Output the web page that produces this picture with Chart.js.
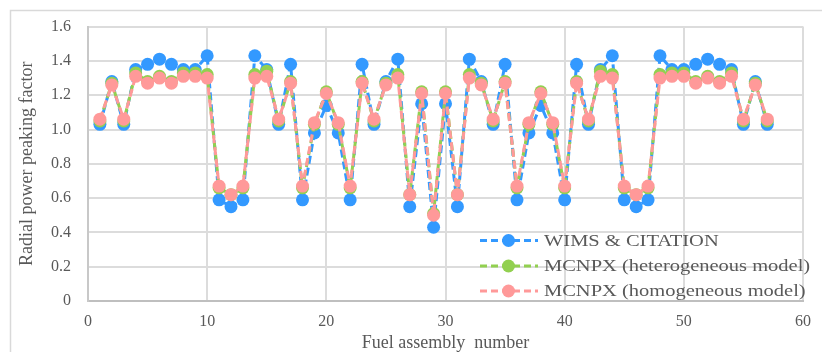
<!DOCTYPE html>
<html>
<head>
<meta charset="utf-8">
<script src="https://cdn.jsdelivr.net/npm/chart.js@4.4.1/dist/chart.umd.min.js"></script>
<style>
  html, body { margin: 0; padding: 0; background: #fff; }
</style>
</head>
<body>
<canvas id="myChart" width="822" height="352"></canvas>
<script>
// fuel assembly numbers (x)
var assembly = [1, 2, 3, 4, 5, 6, 7, 8, 9, 10, 11, 12, 13, 14, 15, 16, 17, 18, 19, 20,
  21, 22, 23, 24, 25, 26, 27, 28, 29, 30, 31, 32, 33, 34, 35, 36, 37, 38, 39, 40,
  41, 42, 43, 44, 45, 46, 47, 48, 49, 50, 51, 52, 53, 54, 55, 56, 57];

// radial power peaking factor
var wimsCitation = [1.03, 1.28, 1.03, 1.35, 1.38, 1.41, 1.38, 1.35, 1.35, 1.43,
  0.59, 0.55, 0.59, 1.43, 1.35, 1.03, 1.38, 0.59, 0.98, 1.14,
  0.98, 0.59, 1.38, 1.03, 1.28, 1.41, 0.55, 1.15, 0.43, 1.15,
  0.55, 1.41, 1.28, 1.03, 1.38, 0.59, 0.98, 1.14, 0.98, 0.59,
  1.38, 1.03, 1.35, 1.43, 0.59, 0.55, 0.59, 1.43, 1.35, 1.35,
  1.38, 1.41, 1.38, 1.35, 1.03, 1.28, 1.03];
var mcnpxHetero = [1.05, 1.27, 1.05, 1.33, 1.28, 1.31, 1.28, 1.33, 1.33, 1.32,
  0.66, 0.62, 0.66, 1.32, 1.34, 1.05, 1.28, 0.66, 1.03, 1.22,
  1.03, 0.66, 1.28, 1.05, 1.27, 1.32, 0.62, 1.22, 0.51, 1.22,
  0.62, 1.32, 1.27, 1.05, 1.28, 0.66, 1.03, 1.22, 1.03, 0.66,
  1.28, 1.05, 1.34, 1.32, 0.66, 0.62, 0.66, 1.32, 1.33, 1.33,
  1.28, 1.31, 1.28, 1.33, 1.05, 1.27, 1.05];
var mcnpxHomo = [1.06, 1.26, 1.06, 1.31, 1.27, 1.30, 1.27, 1.31, 1.31, 1.30,
  0.67, 0.62, 0.67, 1.30, 1.31, 1.06, 1.27, 0.67, 1.04, 1.21,
  1.04, 0.67, 1.27, 1.06, 1.26, 1.30, 0.62, 1.21, 0.50, 1.21,
  0.62, 1.30, 1.26, 1.06, 1.27, 0.67, 1.04, 1.21, 1.04, 0.67,
  1.27, 1.06, 1.31, 1.30, 0.67, 0.62, 0.67, 1.30, 1.31, 1.31,
  1.27, 1.30, 1.27, 1.31, 1.06, 1.26, 1.06];

var seriesNames = ['WIMS & CITATION', 'MCNPX (heterogeneous model)', 'MCNPX (homogeneous model)'];
var seriesColors = ['#3399ff', '#92d050', '#ff9999'];

var serif = "'Liberation Serif', 'Times New Roman', serif";
var textGray = '#595959';

function toPoints(values) {
  return assembly.map(function (a, i) { return { x: a, y: values[i] }; });
}

function makeSet(idx, values, order) {
  return {
    label: seriesNames[idx],
    data: toPoints(values),
    borderColor: seriesColors[idx],
    backgroundColor: seriesColors[idx],
    pointBackgroundColor: seriesColors[idx],
    pointBorderWidth: 0,
    pointRadius: 6.5,
    borderWidth: 3,
    borderDash: [8, 4],
    borderJoinStyle: 'round',
    tension: 0,
    order: order
  };
}

// white background + the thin chart-area frame
var frame = {
  id: 'frame',
  beforeDraw: function (chart) {
    var ctx = chart.ctx;
    ctx.save();
    ctx.fillStyle = '#fff';
    ctx.fillRect(0, 0, chart.width, chart.height);
    ctx.strokeStyle = '#d9d9d9';
    ctx.lineWidth = 1.5;
    ctx.beginPath();
    ctx.moveTo(10.5, chart.height);
    ctx.lineTo(10.5, 10.5);
    ctx.lineTo(chart.width, 10.5);
    ctx.stroke();
    ctx.restore();
  }
};

// legend inside the plot, bottom right, dashed line + marker
var lineLegend = {
  id: 'lineLegend',
  afterDatasetsDraw: function (chart) {
    var ctx = chart.ctx;
    var rows = [240.5, 266, 291];
    ctx.save();
    for (var i = 0; i < seriesNames.length; i++) {
      var y = rows[i];
      ctx.strokeStyle = seriesColors[i];
      ctx.lineWidth = 3;
      ctx.setLineDash([7, 4]);
      ctx.beginPath();
      ctx.moveTo(480, y);
      ctx.lineTo(538, y);
      ctx.stroke();
      ctx.setLineDash([]);
      ctx.fillStyle = seriesColors[i];
      ctx.beginPath();
      ctx.arc(508.5, y, 6.5, 0, Math.PI * 2);
      ctx.fill();

      ctx.save();
      ctx.translate(544, y);
      ctx.scale(1.28, 1);
      ctx.fillStyle = textGray;
      ctx.font = '16px ' + serif;
      ctx.textBaseline = 'middle';
      ctx.fillText(seriesNames[i], 0, 1);
      ctx.restore();
    }
    ctx.restore();
  }
};

var ctx = document.getElementById('myChart').getContext('2d');
var myChart = new Chart(ctx, {
  type: 'line',
  data: {
    datasets: [
      makeSet(0, wimsCitation, 3),
      makeSet(1, mcnpxHetero, 2),
      makeSet(2, mcnpxHomo, 1)
    ]
  },
  options: {
    responsive: false,
    animation: false,
    layout: { padding: { left: 0, right: 15, top: 25, bottom: 0 } },
    scales: {
      x: {
        type: 'linear',
        min: 0,
        max: 60,
        afterFit: function (scale) { scale.height = 51; },
        ticks: { stepSize: 10, padding: 11, color: textGray, font: { family: serif, size: 16 } },
        grid: { color: '#dcdcdc', lineWidth: 2, drawTicks: false },
        border: { color: '#bfbfbf', width: 2 },
        title: {
          display: true,
          text: 'Fuel assembly  number',
          color: textGray,
          font: { family: serif, size: 18, lineHeight: 1 },
          padding: { top: 0, bottom: 0 }
        }
      },
      y: {
        min: 0,
        max: 1.6,
        afterFit: function (scale) { scale.width = 88; },
        ticks: { stepSize: 0.2, padding: 17, color: textGray, font: { family: serif, size: 16 } },
        grid: { color: '#dcdcdc', lineWidth: 2, drawTicks: false },
        border: { color: '#c8c8c8', width: 2 },
        title: {
          display: true,
          text: 'Radial power peaking factor',
          color: textGray,
          font: { family: serif, size: 18, lineHeight: 1 },
          padding: { top: 18, bottom: 0 }
        }
      }
    },
    plugins: {
      legend: { display: false },
      tooltip: { enabled: false }
    }
  },
  plugins: [frame, lineLegend]
});
</script>
</body>
</html>
